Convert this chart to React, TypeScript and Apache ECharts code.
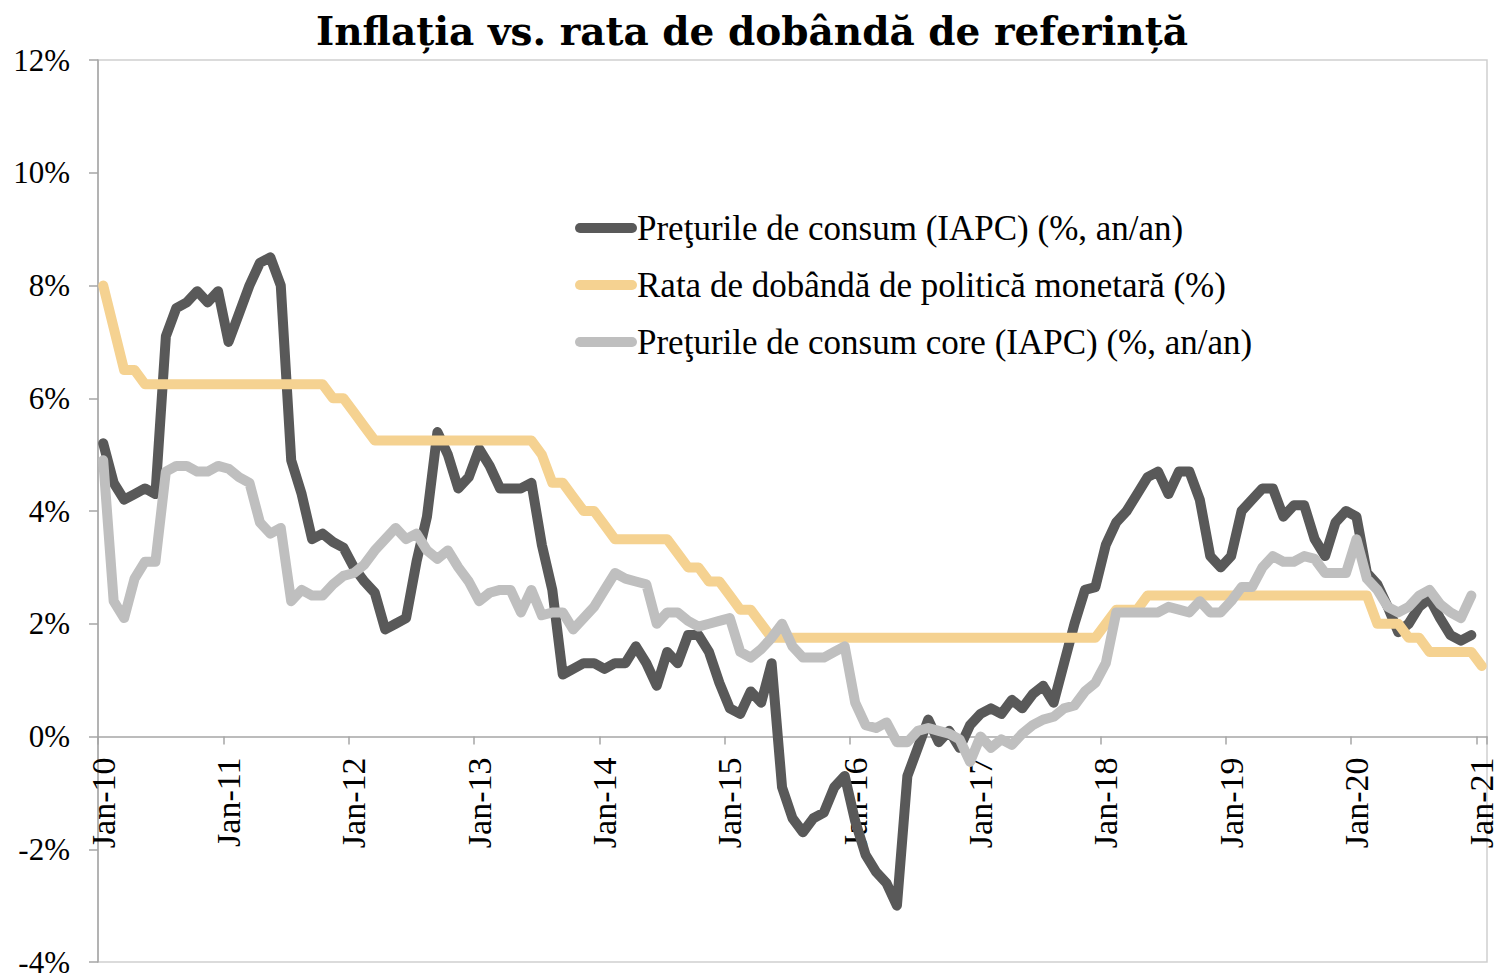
import React, { useEffect, useRef } from "react";
import * as echarts from "echarts";

const MONTHS = ["Jan", "Feb", "Mar", "Apr", "May", "Jun", "Jul", "Aug", "Sep", "Oct", "Nov", "Dec"];
const categories: string[] = [];
for (let y = 10; y <= 20; y++) for (const m of MONTHS) categories.push(`${m}-${y}`);
categories.push("Jan-21");

const TITLE = "Inflația vs. rata de dobândă de referință";
const SERIES_NAMES = [
  "Preţurile de consum (IAPC) (%, an/an)",
  "Rata de dobândă de politică monetară (%)",
  "Preţurile de consum core (IAPC) (%, an/an)",
];

// HICP, % y/y (Jan-10 .. Dec-20)
const cpi = [
  5.2, 4.5, 4.2, 4.3, 4.4, 4.3, 7.1, 7.6, 7.7, 7.9, 7.7, 7.9,
  7.0, 7.5, 8.0, 8.4, 8.5, 8.0, 4.9, 4.3, 3.5, 3.6, 3.45, 3.35,
  3.0, 2.75, 2.55, 1.9, 2.0, 2.1, 3.1, 3.9, 5.4, 5.0, 4.4, 4.6,
  5.1, 4.8, 4.4, 4.4, 4.4, 4.5, 3.4, 2.6, 1.1, 1.2, 1.3, 1.3,
  1.2, 1.3, 1.3, 1.6, 1.3, 0.9, 1.5, 1.3, 1.8, 1.8, 1.5, 0.95,
  0.5, 0.4, 0.8, 0.6, 1.3, -0.9, -1.45, -1.7, -1.45, -1.35, -0.9, -0.7,
  -1.5, -2.1, -2.4, -2.6, -3.0, -0.7, -0.2, 0.3, -0.1, 0.1, -0.2, 0.2,
  0.4, 0.5, 0.4, 0.65, 0.5, 0.75, 0.9, 0.6, 1.3, 2.0, 2.6, 2.65,
  3.4, 3.8, 4.0, 4.3, 4.6, 4.7, 4.3, 4.7, 4.7, 4.2, 3.2, 3.0,
  3.2, 4.0, 4.2, 4.4, 4.4, 3.9, 4.1, 4.1, 3.5, 3.2, 3.8, 4.0,
  3.9, 2.9, 2.7, 2.3, 1.85, 2.0, 2.3, 2.45, 2.1, 1.8, 1.7, 1.8,
];

// Monetary policy rate, % (Jan-10 .. Jan-21)
const policyRate = [
  8.0, 7.25, 6.5, 6.5, 6.25, 6.25, 6.25, 6.25, 6.25, 6.25, 6.25, 6.25,
  6.25, 6.25, 6.25, 6.25, 6.25, 6.25, 6.25, 6.25, 6.25, 6.25, 6.0, 6.0,
  5.75, 5.5, 5.25, 5.25, 5.25, 5.25, 5.25, 5.25, 5.25, 5.25, 5.25, 5.25,
  5.25, 5.25, 5.25, 5.25, 5.25, 5.25, 5.0, 4.5, 4.5, 4.25, 4.0, 4.0,
  3.75, 3.5, 3.5, 3.5, 3.5, 3.5, 3.5, 3.25, 3.0, 3.0, 2.75, 2.75,
  2.5, 2.25, 2.25, 2.0, 1.75, 1.75, 1.75, 1.75, 1.75, 1.75, 1.75, 1.75,
  1.75, 1.75, 1.75, 1.75, 1.75, 1.75, 1.75, 1.75, 1.75, 1.75, 1.75, 1.75,
  1.75, 1.75, 1.75, 1.75, 1.75, 1.75, 1.75, 1.75, 1.75, 1.75, 1.75, 1.75,
  2.0, 2.25, 2.25, 2.25, 2.5, 2.5, 2.5, 2.5, 2.5, 2.5, 2.5, 2.5,
  2.5, 2.5, 2.5, 2.5, 2.5, 2.5, 2.5, 2.5, 2.5, 2.5, 2.5, 2.5,
  2.5, 2.5, 2.0, 2.0, 2.0, 1.75, 1.75, 1.5, 1.5, 1.5, 1.5, 1.5,
  1.25,
];

// Core HICP, % y/y (Jan-10 .. Dec-20)
const coreCpi = [
  4.9, 2.4, 2.1, 2.8, 3.1, 3.1, 4.7, 4.8, 4.8, 4.7, 4.7, 4.8,
  4.75, 4.6, 4.5, 3.8, 3.6, 3.7, 2.4, 2.6, 2.5, 2.5, 2.7, 2.85,
  2.9, 3.05, 3.3, 3.5, 3.7, 3.5, 3.6, 3.3, 3.15, 3.3, 3.0, 2.75,
  2.4, 2.55, 2.6, 2.6, 2.2, 2.6, 2.15, 2.2, 2.2, 1.9, 2.1, 2.3,
  2.6, 2.9, 2.8, 2.75, 2.7, 2.0, 2.2, 2.2, 2.05, 1.95, 2.0, 2.05,
  2.1, 1.5, 1.4, 1.55, 1.75, 2.0, 1.6, 1.4, 1.4, 1.4, 1.5, 1.6,
  0.6, 0.2, 0.15, 0.25, -0.1, -0.1, 0.1, 0.15, 0.1, 0.05, -0.05, -0.45,
  0.0, -0.2, -0.05, -0.15, 0.05, 0.2, 0.3, 0.35, 0.5, 0.55, 0.8, 0.95,
  1.3, 2.2, 2.2, 2.2, 2.2, 2.2, 2.3, 2.25, 2.2, 2.4, 2.2, 2.2,
  2.4, 2.65, 2.65, 3.0, 3.2, 3.1, 3.1, 3.2, 3.15, 2.9, 2.9, 2.9,
  3.5, 2.8, 2.6, 2.3, 2.2, 2.3, 2.5, 2.6, 2.35, 2.2, 2.1, 2.5,
];

const Y_MIN = -4;
const Y_MAX = 12;
const Y_STEP = 2;

const COLORS = ["#595959", "#F5D291", "#BFBFBF"];
const AXIS_COLOR = "#A6A6A6";
const SERIF = "'Liberation Serif', 'Times New Roman', serif";

const GRID_TOP = 60;
const GRID_BOTTOM = 18;
const CHART_H = 980;

export default function App() {
  const ref = useRef<HTMLDivElement>(null);

  useEffect(() => {
    if (!ref.current) return;
    const chart = echarts.init(ref.current, undefined, { renderer: "svg" });
    const everyYear = (i: number) => i % 12 === 0;
    const dataSets = [cpi, policyRate, coreCpi];
    // place the category axis on the 0% line
    const plotH = CHART_H - GRID_TOP - GRID_BOTTOM;
    const zeroOffset = -(plotH * (0 - Y_MIN)) / (Y_MAX - Y_MIN);
    chart.setOption({
      animation: false,
      backgroundColor: "#ffffff",
      title: {
        text: TITLE,
        left: 316,
        top: 11,
        padding: 0,
        textStyle: {
          fontFamily: "'DejaVu Serif', serif",
          fontWeight: "bold",
          fontSize: 39,
          color: "#000000",
        },
      },
      legend: {
        orient: "vertical",
        left: 575,
        top: 210,
        padding: 0,
        itemWidth: 62,
        itemHeight: 10,
        itemGap: 21,
        selectedMode: false,
        icon: "path://M5,0H57A5,5,0,0,1,57,10H5A5,5,0,0,1,5,0Z",
        textStyle: {
          fontFamily: SERIF,
          fontSize: 35,
          lineHeight: 36,
          color: "#000000",
          padding: [0, 0, 0, -5],
        },
        data: SERIES_NAMES,
      },
      grid: {
        left: 98,
        right: 8,
        top: GRID_TOP,
        bottom: GRID_BOTTOM,
        show: true,
        borderColor: "#CFCFCF",
        borderWidth: 1.5,
        containLabel: false,
        outerBoundsMode: "none",
      },
      xAxis: {
        type: "category",
        data: categories,
        boundaryGap: true,
        position: "bottom",
        offset: zeroOffset,
        axisLine: { onZero: false, lineStyle: { color: AXIS_COLOR, width: 1.5 } },
        axisTick: {
          show: true,
          interval: everyYear,
          length: 8,
          lineStyle: { color: AXIS_COLOR, width: 1.5 },
        },
        axisLabel: {
          interval: everyYear,
          rotate: 90,
          margin: 21,
          fontFamily: SERIF,
          fontSize: 34,
          lineHeight: 26,
          color: "#000000",
        },
        splitLine: { show: false },
      },
      yAxis: {
        type: "value",
        min: Y_MIN,
        max: Y_MAX,
        interval: Y_STEP,
        axisLine: { show: true, lineStyle: { color: AXIS_COLOR, width: 1.5 } },
        axisTick: { show: true, length: 9, lineStyle: { color: AXIS_COLOR, width: 1.5 } },
        axisLabel: {
          formatter: (v: number) => `${v}%`,
          margin: 28,
          fontFamily: SERIF,
          fontSize: 31,
          color: "#000000",
        },
        splitLine: { show: false },
      },
      series: SERIES_NAMES.map((name, i) => ({
        name,
        type: "line",
        data: dataSets[i],
        symbol: "none",
        showSymbol: false,
        lineStyle: { width: 10, color: COLORS[i], cap: "round", join: "round" },
        itemStyle: { color: COLORS[i] },
        emphasis: { disabled: true },
        z: 2 + i,
      })),
    });
    return () => chart.dispose();
  }, []);

  return (
    <div
      ref={ref}
      style={{ position: "absolute", left: 0, top: 0, width: 1495, height: 980 }}
    />
  );
}
